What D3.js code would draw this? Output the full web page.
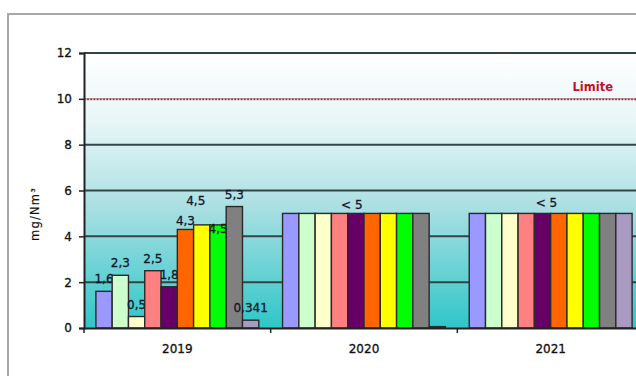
<!DOCTYPE html>
<html>
<head>
<meta charset="utf-8">
<script src="https://cdn.jsdelivr.net/npm/d3@7"></script>
<style>
  html, body { margin: 0; padding: 0; background: #ffffff; }
  svg { display: block; }
</style>
</head>
<body>
<svg id="chart" width="636" height="376"></svg>
<script>
// Emission measurements (mg/Nm³) per year, one series per sampling point
const years = ["2019", "2020", "2021"];
const series = ["Point 1", "Point 2", "Point 3", "Point 4", "Point 5",
                "Point 6", "Point 7", "Point 8", "Point 9", "Point 10"];
const values2019 = [1.6, 2.3, 0.5, 2.5, 1.8, 4.3, 4.5, 4.5, 5.3, 0.341];
const values2020 = [5, 5, 5, 5, 5, 5, 5, 5, 5, 0.06];
const values2021 = [5, 5, 5, 5, 5, 5, 5, 5, 5, 5];
const yTicks = [0, 2, 4, 6, 8, 10, 12];
const limitValue = 10;
const limitLabel = "Limite";
const belowLabel = "< 5";
const yTitle = "mg/Nm³";

const seriesColors = ["#9999ff", "#ccffcc", "#ffffcc", "#ff8080", "#660066",
                      "#ff6600", "#ffff00", "#00ff00", "#808080", "#a99ac2"];

const valuesByYear = { "2019": values2019, "2020": values2020, "2021": values2021 };

const svg = d3.select("#chart");
const plot = { left: 84, right: 644, top: 53, bottom: 328 };

const x0 = d3.scaleBand().domain(years).range([plot.left, plot.right]).padding(0);
const x1 = d3.scaleBand().domain(series).range([0, x0.bandwidth()])
  .paddingInner(0).paddingOuter(0.73);
const y = d3.scaleLinear().domain([0, 12]).range([plot.bottom, plot.top]);

const fmt = d3.formatLocale({ decimal: ",", thousands: " ", grouping: [3], currency: ["", " €"] }).format("~g");

// Slightly heavier text strokes, like the chart's original renderer
function textStyle(sel, size) {
  sel.attr("font-family", "DejaVu Sans, sans-serif")
    .attr("font-size", size)
    .attr("fill", "#111")
    .attr("stroke", "#111")
    .attr("stroke-width", 0.3);
}

// Outer chart frame
svg.append("rect")
  .attr("x", 8).attr("y", 14).attr("width", 700).attr("height", 400)
  .attr("fill", "#ffffff").attr("stroke", "#a8a8a8").attr("stroke-width", 2);

// Plot background gradient
const defs = svg.append("defs");
const grad = defs.append("linearGradient").attr("id", "bg")
  .attr("x1", 0).attr("y1", 0).attr("x2", 0).attr("y2", 1);
grad.append("stop").attr("offset", "0%").attr("stop-color", "#ffffff");
grad.append("stop").attr("offset", "25%").attr("stop-color", "#e8f6f7");
grad.append("stop").attr("offset", "55%").attr("stop-color", "#ade0e3");
grad.append("stop").attr("offset", "100%").attr("stop-color", "#2fc6c8");

svg.append("rect")
  .attr("x", plot.left).attr("y", plot.top)
  .attr("width", plot.right - plot.left).attr("height", plot.bottom - plot.top)
  .attr("fill", "url(#bg)");

// Horizontal gridlines
svg.append("g").selectAll("line")
  .data(yTicks.filter(t => t > 0 && t !== limitValue))
  .join("line")
  .attr("x1", plot.left).attr("x2", plot.right)
  .attr("y1", d => y(d)).attr("y2", d => y(d))
  .attr("stroke", "#334444").attr("stroke-width", 2);

// Limit line
svg.append("line")
  .attr("x1", plot.left).attr("x2", plot.right)
  .attr("y1", y(limitValue)).attr("y2", y(limitValue))
  .attr("stroke", "#b8a8ac").attr("stroke-width", 1.5);
svg.append("line")
  .attr("x1", plot.left).attr("x2", plot.right)
  .attr("y1", y(limitValue) + 0.5).attr("y2", y(limitValue) + 0.5)
  .attr("stroke", "#b01830").attr("stroke-width", 1.6)
  .attr("stroke-dasharray", "1.6 1.6");
svg.append("text")
  .attr("x", plot.right - 31).attr("y", y(limitValue) - 8)
  .attr("text-anchor", "end")
  .attr("font-family", "DejaVu Sans, sans-serif")
  .attr("font-size", 11.5).attr("font-weight", "bold")
  .attr("fill", "#c0102a")
  .text(limitLabel);

// Label nudges for crowded values (series index -> [dx, dy]) per year
const nudges = {
  "2019": { 5: [0, 4], 6: [-6, -12], 7: [0, 16] },
  "2020": { 4: [-4, 4] },
  "2021": { 4: [4, 2] }
};
const labelled = {
  "2019": i => fmt(values2019[i]),
  "2020": i => (i === 4 ? belowLabel : null),
  "2021": i => (i === 4 ? belowLabel : null)
};

// Bars and labels, drawn one series at a time
const barsG = svg.append("g");
series.forEach((s, i) => {
  const g = barsG.append("g");
  g.selectAll("rect")
    .data(years)
    .join("rect")
    .attr("x", yr => x0(yr) + x1(s))
    .attr("y", yr => y(valuesByYear[yr][i]))
    .attr("width", x1.bandwidth())
    .attr("height", yr => y(0) - y(valuesByYear[yr][i]))
    .attr("fill", seriesColors[i])
    .attr("stroke", "#2a2a2a").attr("stroke-width", 1.4);

  g.selectAll("text")
    .data(years.filter(yr => labelled[yr](i) !== null))
    .join("text")
    .attr("x", yr => x0(yr) + x1(s) + x1.bandwidth() / 2 + ((nudges[yr][i] || [0, 0])[0]))
    .attr("y", yr => y(valuesByYear[yr][i]) - 8 + ((nudges[yr][i] || [0, 0])[1]))
    .attr("text-anchor", "middle")
    .call(textStyle, 12)
    .attr("fill", "#15152a").attr("stroke", "#15152a")
    .text(yr => labelled[yr](i));
});

// Axes
const yAxis = svg.append("g").attr("transform", `translate(${plot.left},0)`)
  .call(d3.axisLeft(y).tickValues(yTicks).tickSize(5).tickPadding(7).tickFormat(d3.format("d")));
yAxis.select(".domain").attr("stroke", "#222").attr("stroke-width", 2);
yAxis.selectAll(".tick line").attr("stroke", "#222").attr("stroke-width", 1.5);
yAxis.selectAll("text").call(textStyle, 12);

const xAxis = svg.append("g").attr("transform", `translate(0,${plot.bottom})`)
  .call(d3.axisBottom(x0).tickSize(0).tickPadding(16));
xAxis.select(".domain").attr("stroke", "#222").attr("stroke-width", 2);
xAxis.selectAll("text").call(textStyle, 12);

// Category separator ticks
svg.append("g").selectAll("line")
  .data(years)
  .join("line")
  .attr("x1", yr => x0(yr)).attr("x2", yr => x0(yr))
  .attr("y1", plot.bottom).attr("y2", plot.bottom + 5)
  .attr("stroke", "#222").attr("stroke-width", 1.5);

// Y axis title
svg.append("text")
  .attr("transform", "translate(39,214) rotate(-90)")
  .attr("text-anchor", "middle")
  .attr("letter-spacing", 1.2)
  .call(textStyle, 11.5)
  .attr("stroke-width", 0.15)
  .text(yTitle);
</script>
</body>
</html>
